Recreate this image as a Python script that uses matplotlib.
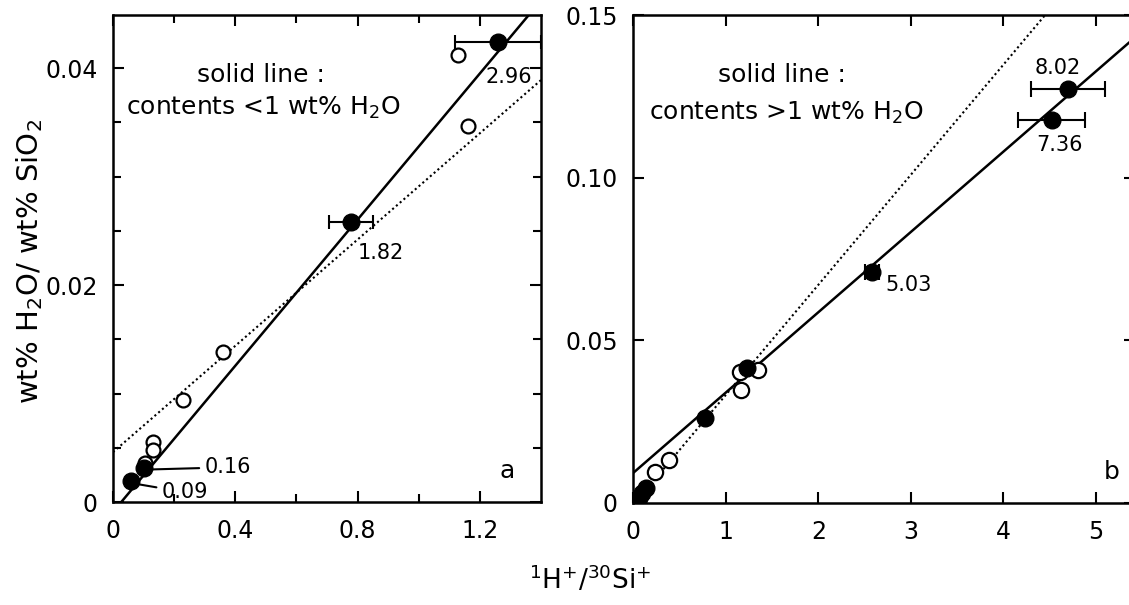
import matplotlib.pyplot as plt

plt.rcParams['font.family'] = ['DejaVu Sans']

# panel a : contents < 1 wt% H2O
a_open_x = [1.13, 1.16, 0.36, 0.23, 0.13, 0.13, 0.105]
a_open_y = [0.0412, 0.0347, 0.0138, 0.0094, 0.0055, 0.0048, 0.0036]
a_fill_x = [1.26, 0.78, 0.10, 0.06]
a_fill_y = [0.0424, 0.0258, 0.0031, 0.0019]
a_fill_xerr = [0.14, 0.072, 0.0, 0.0]
a_fill_lab = ["2.96", "1.82", "0.16", "0.09"]
a_solid_x = [0.027, 1.36]
a_solid_y = [0.0, 0.0449]
a_dot_x = [0.0, 1.40]
a_dot_y = [0.0046, 0.0389]

# panel b : contents > 1 wt% H2O
b_open_x = [1.17, 1.16, 1.35, 0.39, 0.24]
b_open_y = [0.0347, 0.0403, 0.0409, 0.0132, 0.0095]
b_fill_x = [4.70, 4.52, 2.58, 1.23, 0.78, 0.14, 0.10, 0.06]
b_fill_y = [0.1273, 0.1177, 0.0710, 0.0415, 0.0261, 0.0045, 0.0030, 0.0015]
b_fill_xerr = [0.40, 0.36, 0.08, 0.0, 0.0, 0.0, 0.0, 0.0]
b_fill_lab = ["8.02", "7.36", "5.03"]
b_solid_x = [0.0, 5.42]
b_solid_y = [0.0092, 0.1431]
b_dot_x = [0.05, 4.45]
b_dot_y = [0.001, 0.150]

fig = plt.figure(figsize=(11.29, 6.05), dpi=100)
ax1 = fig.add_axes([0.1001, 0.1702, 0.3791, 0.805])
ax2 = fig.add_axes([0.5607, 0.1686, 0.4446, 0.8066])

dots = (0, (1, 1.4))

# --- panel a
ax1.plot(a_solid_x, a_solid_y, color="black", lw=1.8)
ax1.plot(a_dot_x, a_dot_y, color="black", lw=1.5, linestyle=dots)
ax1.plot(a_open_x, a_open_y, "o", ms=10, mfc="white", mec="black", mew=1.6)
ax1.errorbar(a_fill_x, a_fill_y, xerr=a_fill_xerr, fmt="o", ms=12, color="black",
             elinewidth=1.5, capsize=5, capthick=1.5)
ax1.text(1.22, 0.0392, a_fill_lab[0], fontsize=15, va="center")
ax1.text(0.80, 0.0230, a_fill_lab[1], fontsize=15, va="center")
ax1.annotate(a_fill_lab[2], xy=(0.12, 0.0030), xytext=(0.30, 0.0032), fontsize=15,
             va="center", arrowprops=dict(arrowstyle="-", lw=1.5, color="black"))
ax1.annotate(a_fill_lab[3], xy=(0.07, 0.0017), xytext=(0.16, 0.0009), fontsize=15,
             va="center", arrowprops=dict(arrowstyle="-", lw=1.5, color="black"))
ax1.text(0.485, 0.0394, "solid line :", fontsize=18, ha="center", va="center")
ax1.text(0.49, 0.0363, "contents <1 wt% H$_2$O", fontsize=18, ha="center", va="center")
ax1.text(1.29, 0.0029, "a", fontsize=18, ha="center", va="center")

ax1.set_xlim(0, 1.40)
ax1.set_ylim(0, 0.0449)
ax1.set_xticks([0, 0.4, 0.8, 1.2])
ax1.set_xticklabels(["0", "0.4", "0.8", "1.2"])
ax1.set_xticks([0.2, 0.6, 1.0], minor=True)
ax1.set_yticks([0, 0.02, 0.04])
ax1.set_yticklabels(["0", "0.02", "0.04"])
ax1.set_yticks([0.005, 0.01, 0.015, 0.025, 0.03, 0.035], minor=True)

# --- panel b
ax2.plot(b_solid_x, b_solid_y, color="black", lw=1.8)
ax2.plot(b_dot_x, b_dot_y, color="black", lw=1.5, linestyle=dots)
ax2.plot(b_open_x, b_open_y, "o", ms=11, mfc="white", mec="black", mew=1.6)
ax2.errorbar(b_fill_x, b_fill_y, xerr=b_fill_xerr, fmt="o", ms=12, color="black",
             elinewidth=1.5, capsize=6, capthick=1.5)
ax2.text(4.59, 0.1337, b_fill_lab[0], fontsize=15, ha="center", va="center")
ax2.text(4.61, 0.1100, b_fill_lab[1], fontsize=15, ha="center", va="center")
ax2.text(2.72, 0.0670, b_fill_lab[2], fontsize=15, va="center")
ax2.text(1.61, 0.1316, "solid line :", fontsize=18, ha="center", va="center")
ax2.text(1.65, 0.1200, "contents >1 wt% H$_2$O", fontsize=18, ha="center", va="center")
ax2.text(5.17, 0.0095, "b", fontsize=18, ha="center", va="center")

ax2.set_xlim(0, 5.42)
ax2.set_ylim(0, 0.15)
ax2.set_xticks([0, 1, 2, 3, 4, 5])
ax2.set_yticks([0, 0.05, 0.10, 0.15])
ax2.set_yticklabels(["0", "0.05", "0.10", "0.15"])

for ax in (ax1, ax2):
    for s in ax.spines.values():
        s.set_linewidth(1.8)
    ax.tick_params(which="both", direction="in", top=True, right=True, width=1.5)
    ax.tick_params(which="major", length=8, labelsize=17)
    ax.tick_params(which="minor", length=6)
    ax.tick_params(axis="x", pad=12)
    ax.tick_params(axis="y", pad=11)

fig.text(30 / 1129, 1 - 262 / 605, "wt% H$_2$O/ wt% SiO$_2$", rotation=90,
         fontsize=21, ha="center", va="center")
fig.text(590 / 1129, 1 - 580 / 605, "$^{1}$H$^{+}$/$^{30}$Si$^{+}$",
         fontsize=19, ha="center", va="center")

fig.savefig("out.png", dpi=100)
